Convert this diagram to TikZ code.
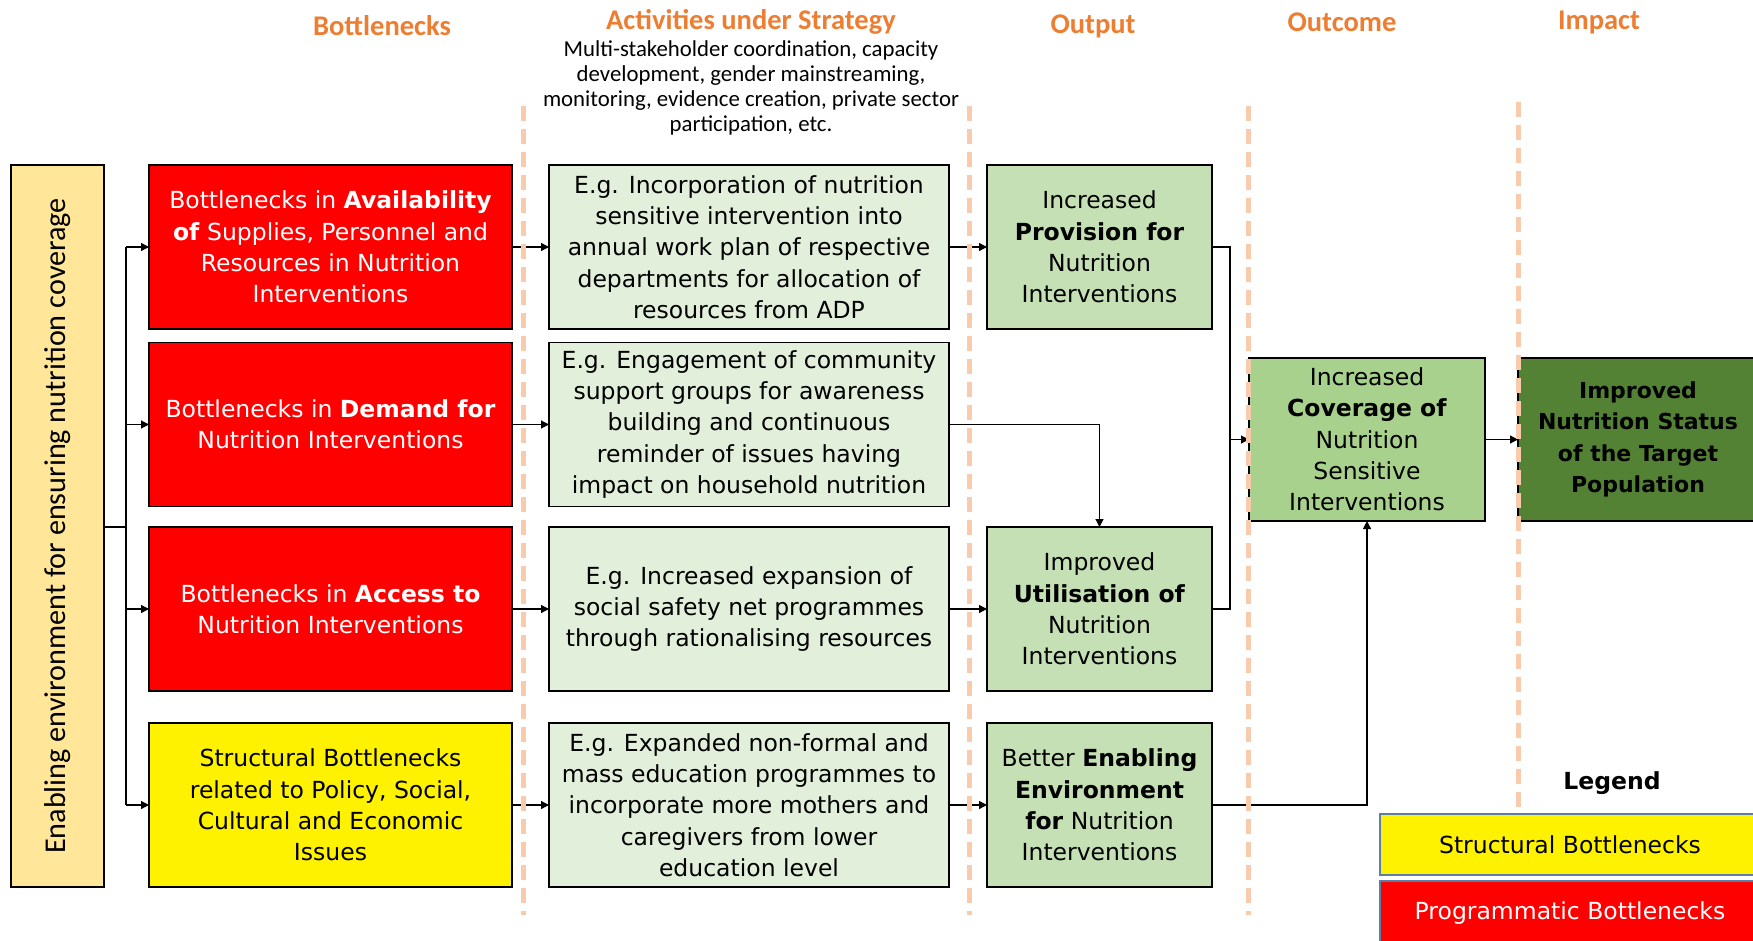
\documentclass[tikz,border=0pt]{standalone}
\usepackage{fontspec}
\setmainfont{DejaVu Sans}
\newfontfamily\headfont{Carlito}
\usetikzlibrary{arrows.meta}

\definecolor{hdorange}{HTML}{ED7D31}
\definecolor{dashorange}{HTML}{F8CBAD}
\definecolor{envyellow}{HTML}{FFE699}
\definecolor{actgreen}{HTML}{E2EFDA}
\definecolor{outgreen}{HTML}{C5E0B4}
\definecolor{ocgreen}{HTML}{A9D18E}
\definecolor{impgreen}{HTML}{548235}
\definecolor{legborder}{HTML}{5B7FA6}

\tikzset{
  box/.style={draw=black, line width=1.6pt, inner sep=0pt, outer sep=0pt, align=center,
    font=\fontsize{23.5}{31.3}\selectfont},
  bneck/.style={box, fill=red, text=white, minimum width=363pt, minimum height=164pt},
  sbneck/.style={bneck, fill=yellow, text=black},
  actbox/.style={box, fill=actgreen, minimum width=400pt, minimum height=164pt},
  outbox/.style={box, fill=outgreen, minimum width=225pt, minimum height=164pt},
  heading/.style={text=hdorange, font=\headfont\bfseries\fontsize{28.5}{32}\selectfont},
  phase/.style={dashorange, line width=5pt, dash pattern=on 15pt off 8pt},
  legbox/.style={draw=legborder, line width=1.2pt, inner sep=0pt, minimum width=380pt,
    font=\fontsize{23.5}{28}\selectfont},
  link/.style={line width=1.2pt}
}

\begin{document}
\begin{tikzpicture}[x=1pt,y=-1pt,>={Triangle[length=8pt,width=8pt]}]
  \useasboundingbox (0,0) rectangle (1753,940);

  % column headings
  \node[heading] (hBn)  at (382,26)  {Bottlenecks};
  \node[heading] (hAct) at (751,22)  {Activities under Strategy};
  \node[heading] (hOut) at (1093,26) {Output};
  \node[heading] (hOc)  at (1342,22) {Outcome};
  \node[heading] (hImp) at (1599,22) {Impact};
  \node[align=center, font=\headfont\fontsize{22.8}{24.8}\selectfont] (sub) at (751,88)
    {Multi-stakeholder coordination, capacity\\development, gender mainstreaming,\\monitoring, evidence creation, private sector\\participation, etc.};

  % enabling environment
  \node[box, fill=envyellow, minimum width=93pt, minimum height=722pt] (env) at (57.5,526)
    {\rotatebox{90}{\headfont\fontsize{30.2}{32}\selectfont Enabling environment for ensuring nutrition coverage}};

  % bottlenecks
  \node[bneck] (b1) at (330.5,247)
    {Bottlenecks in \textbf{Availability}\\\textbf{of} Supplies, Personnel and\\Resources in Nutrition\\Interventions};
  \node[bneck] (b2) at (330.5,424.5)
    {Bottlenecks in \textbf{Demand for}\\Nutrition Interventions};
  \node[bneck] (b3) at (330.5,609)
    {Bottlenecks in \textbf{Access to}\\Nutrition Interventions};
  \node[sbneck] (b4) at (330.5,805)
    {Structural Bottlenecks\\related to Policy, Social,\\Cultural and Economic\\Issues};

  % activities
  \node[actbox] (a1) at (749,247)
    {E.g. Incorporation of nutrition\\sensitive intervention into\\annual work plan of respective\\departments for allocation of\\resources from ADP};
  \node[actbox] (a2) at (749,424.5)
    {E.g. Engagement of community\\support groups for awareness\\building and continuous\\reminder of issues having\\impact on household nutrition};
  \node[actbox] (a3) at (749,609)
    {E.g. Increased expansion of\\social safety net programmes\\through rationalising resources};
  \node[actbox] (a4) at (749,805)
    {E.g. Expanded non-formal and\\mass education programmes to\\incorporate more mothers and\\caregivers from lower\\education level};

  % outputs
  \node[outbox] (o1) at (1099.5,247)
    {Increased\\\textbf{Provision for}\\Nutrition\\Interventions};
  \node[outbox] (o3) at (1099.5,609)
    {Improved\\\textbf{Utilisation of}\\Nutrition\\Interventions};
  \node[outbox] (o4) at (1099.5,805)
    {Better \textbf{Enabling}\\\textbf{Environment}\\\textbf{for} Nutrition\\Interventions};

  % outcome and impact
  \node[box, fill=ocgreen, minimum width=236pt, minimum height=163pt] (oc) at (1367,439.5)
    {Increased\\\textbf{Coverage of}\\Nutrition\\Sensitive\\Interventions};
  \node[box, fill=impgreen, minimum width=245pt, minimum height=163pt] (imp) at (1640.5,439.5) {};
  \node[align=center, font=\bfseries\fontsize{22}{31.3}\selectfont] (impText) at (1638,439.5)
    {Improved\\Nutrition Status\\of the Target\\Population};

  % connectors
  \coordinate (busx) at (126,0);
  \coordinate (brx) at (1230,0);
  \draw[link] (env.east |- 0,527) -- (busx |- 0,527);
  \draw[link] (busx |- b1.west) -- (busx |- b4.west);
  \foreach \i in {1,...,4} {
    \draw[link,->] (busx |- b\i.west) -- (b\i.west);
    \draw[link,->] (b\i.east) -- (a\i.west);
  }
  \foreach \i in {1,3,4}
    \draw[link,->] (a\i.east) -- (o\i.west);
  \draw[link,->] (a2.east) -| (o3.north);
  \draw[link] (o1.east) -- (brx |- o1.east) -- (brx |- o3.east) -- (o3.east);
  \draw[link,->] (brx |- oc.west) -- (oc.west);
  \draw[link,->] (o4.east) -| (oc.south);
  \draw[link,->] (oc.east) -- (imp.west);

  % phase separators
  \draw[phase] (523,106) -- (523,915);
  \draw[phase] (969,106) -- (969,915);
  \draw[phase] (1248,106) -- (1248,915);
  \draw[phase] (1518,102) -- (1518,915);

  % legend
  \node[font=\bfseries\fontsize{23.5}{28}\selectfont] (legTitle) at (1612,783) {Legend};
  \node[legbox, fill=yellow, minimum height=61pt] (legS) at (1570,844.5) {Structural Bottlenecks};
  \node[legbox, fill=red, text=white, minimum height=64pt] (legP) at (1570,913) {Programmatic Bottlenecks};
\end{tikzpicture}
\end{document}
